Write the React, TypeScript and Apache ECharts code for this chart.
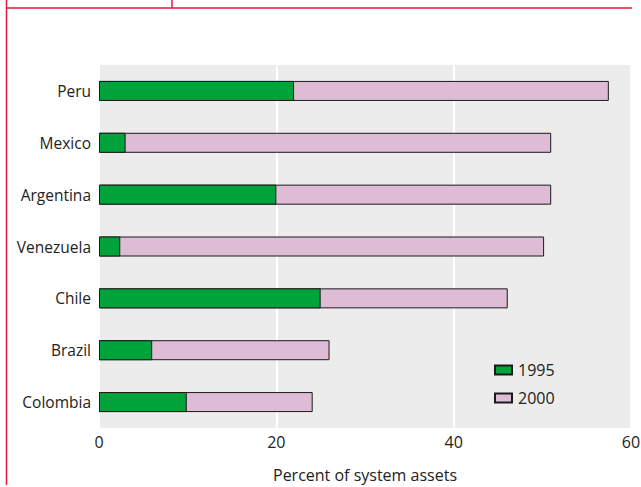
import React, { useEffect, useRef } from "react";
import * as echarts from "echarts";

const categories = ["Peru", "Mexico", "Argentina", "Venezuela", "Chile", "Brazil", "Colombia"];
const values1995 = [22.0, 3.0, 20.0, 2.4, 25.0, 6.0, 9.9];
const values2000 = [57.5, 51.0, 51.0, 50.2, 46.1, 26.0, 24.1];
const xTicks = { min: 0, max: 60, interval: 20 };

const FONT = "'Open Sans', 'DejaVu Sans', sans-serif";
const GREEN = "#00a33a";
const PINK = "#dfbcd6";
const RED = "#e11b3c";

export default function App() {
  const ref = useRef<HTMLDivElement>(null);
  useEffect(() => {
    if (!ref.current) return;
    const chart = echarts.init(ref.current, undefined, { renderer: "svg" });
    chart.setOption({
      animation: false,
      backgroundColor: "#ffffff",
      textStyle: { fontFamily: FONT },
      grid: {
        left: 99,
        right: 10,
        top: 65,
        bottom: 59,
        show: true,
        backgroundColor: "#ececec",
        borderWidth: 0,
        containLabel: false,
        outerBoundsMode: "none",
      },
      legend: {
        data: ["1995", "2000"],
        orient: "vertical",
        left: 494,
        top: 362,
        padding: 0,
        icon: "rect",
        itemWidth: 17,
        itemHeight: 9,
        itemGap: 12,
        textStyle: { color: "#222", fontSize: 16, fontFamily: FONT, padding: [0, 0, 0, 1] },
      },
      xAxis: {
        type: "value",
        min: xTicks.min,
        max: xTicks.max,
        interval: xTicks.interval,
        name: "Percent of system assets",
        nameLocation: "middle",
        nameGap: 38,
        nameTextStyle: { color: "#222", fontSize: 16, fontFamily: FONT, lineHeight: 18 },
        axisLine: { show: false },
        axisTick: { show: false },
        axisLabel: { color: "#222", fontSize: 16, margin: 6, fontFamily: FONT },
        splitLine: { show: true, lineStyle: { color: "#ffffff", width: 2 } },
      },
      yAxis: {
        type: "category",
        data: categories,
        inverse: true,
        axisLine: { show: false },
        axisTick: { show: false },
        axisLabel: { color: "#222", fontSize: 15.5, margin: 8, fontFamily: FONT },
        splitLine: { show: false },
      },
      series: [
        {
          name: "2000",
          type: "bar",
          data: values2000,
          barWidth: 20,
          barGap: "-100%",
          itemStyle: { color: PINK, borderColor: "#1a1a1a", borderWidth: 1 },
        },
        {
          name: "1995",
          type: "bar",
          data: values1995,
          barWidth: 20,
          barGap: "-100%",
          itemStyle: { color: GREEN, borderColor: "#1a1a1a", borderWidth: 1 },
        },
      ],
      graphic: [
        { type: "line", shape: { x1: 6.5, y1: 0, x2: 6.5, y2: 485 }, style: { stroke: RED, lineWidth: 1.5 } },
        { type: "line", shape: { x1: 6, y1: 8, x2: 632, y2: 8 }, style: { stroke: RED, lineWidth: 1.5 } },
        { type: "line", shape: { x1: 172, y1: 0, x2: 172, y2: 8 }, style: { stroke: RED, lineWidth: 1.5 } },
      ],
    });
    return () => chart.dispose();
  }, []);
  return (
    <div
      ref={ref}
      style={{ position: "fixed", left: 0, top: 0, width: 641, height: 487 }}
    />
  );
}
